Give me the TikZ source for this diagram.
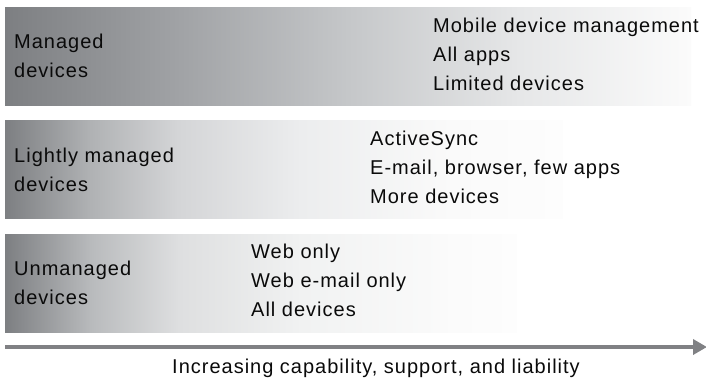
\documentclass[tikz,border=0pt]{standalone}
\usepackage{fontspec}
\setmainfont{Liberation Sans}[LetterSpace=5]
\usetikzlibrary{arrows.meta}
\definecolor{arrowgray}{RGB}{128,129,132}
\definecolor{gA}{RGB}{125,127,130}
\definecolor{gA1}{RGB}{160,162,165}
\definecolor{gA2}{RGB}{197,199,201}
\definecolor{gA3}{RGB}{230,231,232}
\definecolor{gA4}{RGB}{251,251,251}
\definecolor{gB1}{RGB}{175,177,179}
\definecolor{gB2}{RGB}{212,213,215}
\definecolor{gB3}{RGB}{236,237,238}
\definecolor{gB4}{RGB}{250,250,250}
\definecolor{gC1}{RGB}{185,187,189}
\definecolor{gC2}{RGB}{222,223,224}
\definecolor{gC3}{RGB}{241,242,242}
\definecolor{gC4}{RGB}{251,251,251}
\definecolor{gEnd}{RGB}{253,253,253}
\definecolor{txt}{RGB}{10,10,10}
\pgfdeclarehorizontalshading{shadeone}{100bp}{color(0bp)=(gA); color(25bp)=(gA); color(37.5bp)=(gA1); color(50bp)=(gA2); color(62.5bp)=(gA3); color(75bp)=(gA4); color(100bp)=(gA4)}
\pgfdeclarehorizontalshading{shadetwo}{100bp}{color(0bp)=(gA); color(25bp)=(gA); color(32.5bp)=(gB1); color(40.5bp)=(gB2); color(51.5bp)=(gB3); color(65bp)=(gB4); color(75bp)=(gEnd); color(100bp)=(gEnd)}
\pgfdeclarehorizontalshading{shadethree}{100bp}{color(0bp)=(gA); color(25bp)=(gA); color(33.5bp)=(gC1); color(42bp)=(gC2); color(54bp)=(gC3); color(69bp)=(gC4); color(75bp)=(gEnd); color(100bp)=(gEnd)}
\tikzset{
  band/.style={draw=none, inner sep=0pt, outer sep=0pt, anchor=north west, minimum height=98pt},
  lbl/.style={anchor=base west, inner sep=0pt, align=left, text=txt, font=\fontsize{20}{29}\selectfont},
}
\begin{document}
\begin{tikzpicture}[x=1pt,y=-1pt]
\useasboundingbox (0,0) rectangle (706,381);
\node[band, shading=shadeone, minimum width=686pt] (b1) at (5,7) {};
\node[band, shading=shadetwo, minimum width=558pt] (b2) at (5,120.5) {};
\node[band, shading=shadethree, minimum width=512pt] (b3) at (5,234) {};
\node[lbl] (l1) at (14,77.5) {Managed\\devices};
\node[lbl] (r1) at (433,90.5) {Mobile device management\\All apps\\Limited devices};
\node[lbl] (l2) at (14,191) {Lightly managed\\devices};
\node[lbl] (r2) at (370,203) {ActiveSync\\E-mail, browser, few apps\\More devices};
\node[lbl] (l3) at (14,304.5) {Unmanaged\\devices};
\node[lbl] (r3) at (251,316) {Web only\\Web e-mail only\\All devices};
\coordinate (as) at (5,347);
\coordinate (ae) at (707,347);
\draw[arrowgray, line width=4pt, -{Triangle[length=14pt,width=15pt]}] (as) -- (ae);
\node[anchor=base, inner sep=0pt, text=txt, font=\fontsize{20}{24}\selectfont] (cap) at (376,373) {Increasing capability, support, and liability};
\end{tikzpicture}
\end{document}
